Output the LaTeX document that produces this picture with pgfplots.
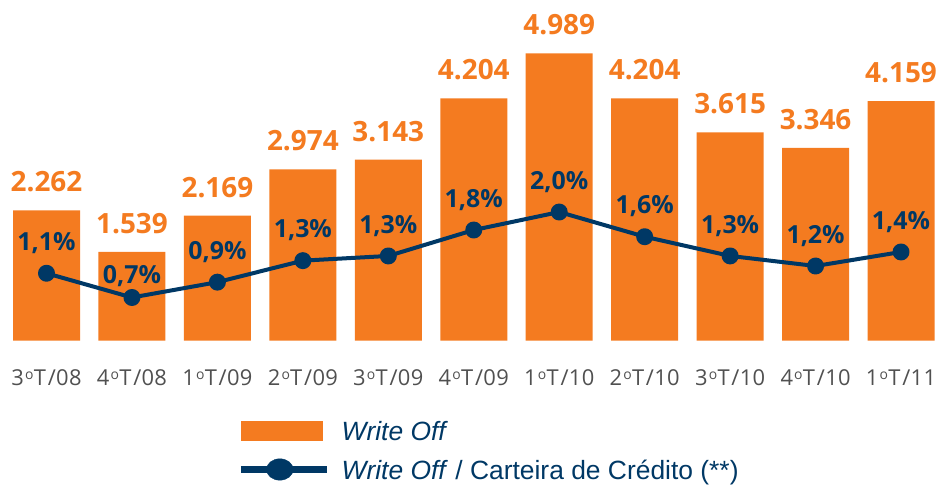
\documentclass[border=0pt]{standalone}
\usepackage{fontspec}
\setmainfont{Open Sans}
\newfontfamily\arialfont{Liberation Sans}
\newfontfamily\tickfont[LetterSpace=1.5]{Open Sans}
\usepackage{pgfplots}
\pgfplotsset{compat=1.18}
\usepackage{pgfplotstable}
\definecolor{wo}{HTML}{F47B20}
\definecolor{navy}{HTML}{003865}
\definecolor{tickgray}{HTML}{505050}
\newcommand\ord{\kern1.2bp\raisebox{5.5bp}{\fontsize{14}{14}\selectfont o}\kern0.3bp}
\newcommand\tsl{\kern1.8bp/}

\pgfplotstableread{
x wo
0 2262
1 1539
2 2169
3 2974
4 3143
5 4204
6 4989
7 4204
8 3615
9 3346
10 4159
}\bars

\pgfplotstableread{
x r lab dy
0 1.069 1,1 23
1 0.703 0,7 14.4
2 0.935 0,9 23
3 1.260 1,3 23
4 1.331 1,3 23
5 1.723 1,8 23
6 1.995 2,0 23
7 1.622 1,6 23
8 1.331 1,3 23
9 1.179 1,2 23
10 1.391 1,4 23
}\ratio

\begin{document}
\begin{tikzpicture}
\useasboundingbox (0,-144.5bp) rectangle (937bp,340.5bp);
\begin{axis}[
  at={(0,0)}, anchor=south west,
  scale only axis, width=937bp, height=340.5bp,
  xmin=-0.5442, xmax=10.421, ymin=0, ymax=5914,
  enlargelimits=false, clip=false,
  ybar, bar width=67bp,
  axis line style={draw=none},
  ytick=\empty,
  xtick={0,...,10},
  xticklabels={3\ord T\tsl 08,4\ord T\tsl 08,1\ord T\tsl 09,2\ord T\tsl 09,3\ord T\tsl 09,4\ord T\tsl 09,1\ord T\tsl 10,2\ord T\tsl 10,3\ord T\tsl 10,4\ord T\tsl 10,1\ord T\tsl 11},
  major tick length=0pt,
  xticklabel style={font=\tickfont\fontsize{22}{24}\selectfont, text=tickgray, anchor=base, inner sep=0pt, yshift=-44.5bp},
  /pgf/number format/1000 sep={.},
  /pgf/number format/assume math mode=true,
  legend style={at={(0.2529,-0.2355)}, anchor=north west, draw=none, fill=none,
    inner sep=0pt, outer sep=0pt, cells={anchor=west},
    nodes={inner sep=0pt, text height=19.5bp, text depth=0bp},
    font=\arialfont\fontsize{26.5}{30}\selectfont, text=navy,
    row sep=17.9bp,
    /tikz/every odd column/.append style={column sep=11bp}},
]
\addplot[fill=wo, draw=none,
  nodes near coords,
  every node near coord/.append style={anchor=base, yshift=18.5bp, inner sep=0pt,
    font=\fontsize{28}{30}\selectfont\bfseries, text=wo},
  legend image code/.code={\fill[wo] (0bp,-10bp) rectangle (82bp,10bp);}
] table[x=x,y=wo]{\bars};
\addlegendentry{\textit{Write Off}}
\addlegendimage{legend image code/.code={\draw[navy,line width=7.7bp] (0bp,0bp)--(86bp,0bp); \fill[navy] (39bp,0bp) ellipse (13.3bp and 10.7bp);}}
\addlegendentry{\textit{Write Off} / Carteira de Crédito (**)}
\end{axis}
\begin{axis}[
  at={(0,0)}, anchor=south west,
  scale only axis, width=937bp, height=340.5bp,
  xmin=-0.5442, xmax=10.421, ymin=0.0529, ymax=5.2003,
  enlargelimits=false, clip=false,
  hide axis,
]
\addplot[navy, line width=4bp, line join=round,
  mark=*, mark size=6.5pt, mark options={fill=navy, draw=none},
  point meta=explicit symbolic,
  visualization depends on={\thisrow{dy} \as \dy},
  nodes near coords={\pgfplotspointmeta\%},
  every node near coord/.append style={anchor=base, yshift=\dy pt, inner sep=0pt,
    font=\fontsize{25}{27}\selectfont\bfseries, text=navy},
] table[x=x,y=r,meta=lab]{\ratio};
\end{axis}
\end{tikzpicture}
\end{document}
